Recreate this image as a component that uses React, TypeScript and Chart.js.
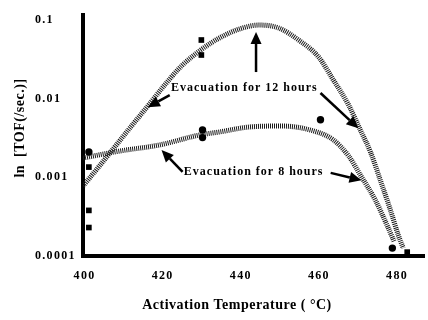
import React, { useEffect, useRef } from "react";
import { Chart, registerables } from "chart.js";

Chart.register(...registerables);

// ---- data ----
const xTicks = [400, 420, 440, 460, 480];
const yTicks = [0.0001, 0.001, 0.01, 0.1];

// fitted curve, evacuation 12 h
const curve12hX = [399.6, 403.2, 407.3, 411.6, 416.2, 420.5, 424.8, 429.4, 434.5, 439.6, 444.7, 449.7, 454.8, 459.9, 463.7, 467.6, 470.6, 473.2, 475.7, 478.3, 480.3, 481.6];
const curve12hY = [0.000776, 0.00128, 0.00229, 0.00424, 0.00807, 0.0149, 0.026, 0.0404, 0.059, 0.0767, 0.0863, 0.0791, 0.0557, 0.0339, 0.01726, 0.0083, 0.004, 0.0021, 0.000925, 0.000385, 0.000185, 0.000126];

// fitted curve, evacuation 8 h
const curve8hX = [399.6, 409.0, 419.2, 429.4, 434.5, 442.1, 450.5, 458.7, 463.7, 467.6, 470.6, 474.4, 477.7, 479.3];
const curve8hY = [0.00176, 0.00216, 0.00258, 0.00345, 0.00377, 0.00436, 0.00449, 0.00388, 0.00299, 0.00187, 0.00107, 0.00052, 0.00023, 0.000151];

// measured points (squares = 12 h, circles = 8 h)
const squaresX = [401.1, 401.1, 401.1, 429.9, 429.9, 482.6];
const squaresY = [0.00135, 0.00038, 0.00023, 0.0557, 0.0359, 0.000112];
const circlesX = [401.1, 430.2, 430.2, 460.4, 478.8];
const circlesY = [0.0021, 0.004, 0.0032, 0.0054, 0.000126];

// annotations
const labelTexts = ["Evacuation for 12 hours", "Evacuation for 8 hours"];
const labelX = [440.9, 443.3];
const labelY = [0.0137, 0.00117];

const arrowTailX = [421.8, 443.9, 460.4, 425.1, 463.0];
const arrowTailY = [0.0111, 0.0218, 0.0118, 0.00117, 0.00114];
const arrowHeadX = [416.2, 443.9, 470.1, 419.7, 470.9];
const arrowHeadY = [0.0078, 0.0704, 0.0042, 0.00222, 0.00092];

const xTitle = "Activation Temperature ( \u00B0C)";
const yTitle = "ln  [TOF(/sec.)]";

const FONT = '"Liberation Serif", "Times New Roman", serif';

const zip = (xs: number[], ys: number[]) => xs.map((x, i) => ({ x, y: ys[i] }));

const spacingPlugin = {
  id: "spacing",
  beforeDraw(chart: any) {
    (chart.ctx as any).letterSpacing = "1.3px";
  },
};

const annotPlugin = {
  id: "annot",
  afterDraw(chart: any) {
    const { ctx, scales } = chart;
    const xs = scales.x;
    const ys = scales.y;
    ctx.save();
    ctx.fillStyle = "#000";
    ctx.strokeStyle = "#000";
    // arrows
    for (let i = 0; i < arrowTailX.length; i++) {
      const x1 = xs.getPixelForValue(arrowTailX[i]);
      const y1 = ys.getPixelForValue(arrowTailY[i]);
      const x2 = xs.getPixelForValue(arrowHeadX[i]);
      const y2 = ys.getPixelForValue(arrowHeadY[i]);
      const ang = Math.atan2(y2 - y1, x2 - x1);
      const headLen = 12;
      const headW = 5.5;
      const bx = x2 - headLen * Math.cos(ang);
      const by = y2 - headLen * Math.sin(ang);
      ctx.lineWidth = 2.5;
      ctx.beginPath();
      ctx.moveTo(x1, y1);
      ctx.lineTo(bx, by);
      ctx.stroke();
      ctx.beginPath();
      ctx.moveTo(x2, y2);
      ctx.lineTo(bx + headW * Math.sin(ang), by - headW * Math.cos(ang));
      ctx.lineTo(bx - headW * Math.sin(ang), by + headW * Math.cos(ang));
      ctx.closePath();
      ctx.fill();
    }
    // labels
    ctx.font = `bold 12px ${FONT}`;
    (ctx as any).letterSpacing = "1px";
    ctx.textAlign = "center";
    ctx.textBaseline = "middle";
    for (let i = 0; i < labelTexts.length; i++) {
      ctx.fillText(labelTexts[i], xs.getPixelForValue(labelX[i]), ys.getPixelForValue(labelY[i]));
    }
    // axis titles
    ctx.font = `bold 14px ${FONT}`;
    (ctx as any).letterSpacing = "0.5px";
    ctx.fillText(xTitle, 237, 305);
    ctx.translate(20, 128);
    ctx.rotate(-Math.PI / 2);
    ctx.fillText(yTitle, 0, 0);
    ctx.restore();
  },
};

export default function App() {
  const ref = useRef<HTMLCanvasElement>(null);
  useEffect(() => {
    if (!ref.current) return;
    const tickFont = { family: FONT, size: 12, weight: "bold" as const };
    const curveStyle = {
      type: "line",
      showLine: true,
      pointRadius: 0,
      borderColor: "#1a1a1a",
      borderWidth: 5,
      borderDash: [1, 1],
      borderCapStyle: "butt",
      cubicInterpolationMode: "monotone",
      fill: false,
      order: 1,
    };
    const chart = new Chart(ref.current, {
      type: "scatter",
      data: {
        datasets: [
          {
            data: zip(squaresX, squaresY),
            pointStyle: "rect",
            pointRadius: 4,
            backgroundColor: "#000",
            borderColor: "#000",
            borderWidth: 0,
            order: 0,
          },
          {
            data: zip(circlesX, circlesY),
            pointStyle: "circle",
            pointRadius: 3.7,
            backgroundColor: "#000",
            borderColor: "#000",
            borderWidth: 0,
            order: 0,
          },
          { ...curveStyle, data: zip(curve12hX, curve12hY) },
          { ...curveStyle, data: zip(curve8hX, curve8hY) },
        ] as any,
      },
      options: {
        animation: false,
        responsive: false,
        layout: { padding: { left: 35, top: 15, right: 2, bottom: 0 } },
        plugins: { legend: { display: false }, tooltip: { enabled: false } },
        scales: {
          x: {
            type: "linear",
            min: 399.6,
            max: 486.9,
            afterFit: (s: any) => {
              s.height = 64;
            },
            afterBuildTicks: (s: any) => {
              s.ticks = xTicks.map((v) => ({ value: v }));
            },
            ticks: {
              color: "#000",
              font: tickFont,
              padding: 13,
              autoSkip: false,
              maxRotation: 0,
              callback: (v: any) => String(v),
            },
            grid: { display: false, drawTicks: false },
            border: { display: true, color: "#000", width: 4 },
          },
          y: {
            type: "logarithmic",
            min: 0.0001,
            max: 0.1158,
            afterFit: (s: any) => {
              s.width = 48;
            },
            afterBuildTicks: (s: any) => {
              s.ticks = yTicks.map((v) => ({ value: v }));
            },
            ticks: {
              color: "#000",
              font: tickFont,
              crossAlign: "far",
              autoSkip: false,
              callback: (v: any) => String(v),
            },
            grid: { display: false, drawTicks: false },
            border: { display: true, color: "#000", width: 4 },
          },
        },
      },
      plugins: [spacingPlugin, annotPlugin],
    });
    return () => chart.destroy();
  }, []);
  return (
    <div style={{ position: "fixed", left: 0, top: 0, width: 428, height: 320, background: "#fff" }}>
      <canvas ref={ref} width={428} height={320} style={{ display: "block" }} />
    </div>
  );
}
